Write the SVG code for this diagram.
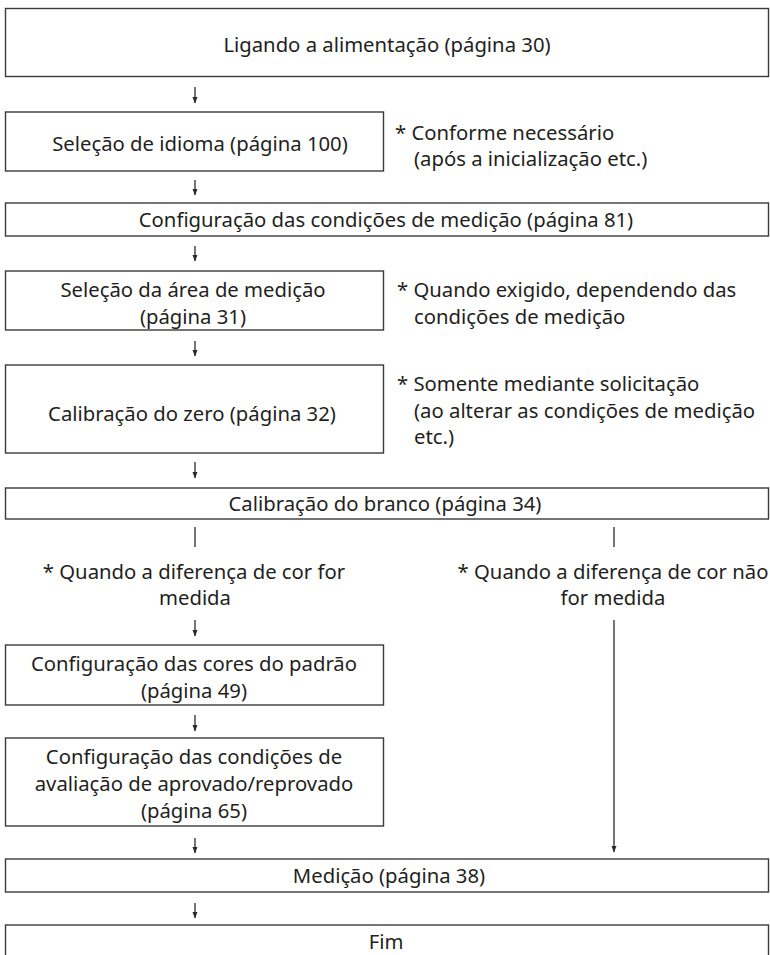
<svg xmlns="http://www.w3.org/2000/svg" width="770" height="955" viewBox="0 0 770 955">
<defs>
<marker id="ah" viewBox="0 0 7 7" refX="6.5" refY="3.5" markerWidth="7" markerHeight="7" markerUnits="userSpaceOnUse" orient="auto">
<path d="M0,0.8 L7,3.5 L0,6.2 Z" fill="#2b2b2b"/>
</marker>
<style>
.box{fill:#fff;stroke:#3a3a3a;stroke-width:1.4}
.t{font-family:"Noto Sans","Open Sans","DejaVu Sans",sans-serif;font-size:20.3px;fill:#231f20}
.c{text-anchor:middle}
.ln{stroke:#2b2b2b;stroke-width:1.3;fill:none}
</style>
</defs>
<rect width="770" height="955" fill="#fff"/>
<g id="connectors">
<line class="ln" x1="195" y1="87" x2="195" y2="103" marker-end="url(#ah)"/>
<line class="ln" x1="195" y1="180" x2="195" y2="195" marker-end="url(#ah)"/>
<line class="ln" x1="195" y1="246" x2="195" y2="261" marker-end="url(#ah)"/>
<line class="ln" x1="195" y1="341" x2="195" y2="356" marker-end="url(#ah)"/>
<line class="ln" x1="195" y1="462" x2="195" y2="478" marker-end="url(#ah)"/>
<line class="ln" x1="195" y1="527" x2="195" y2="547"/>
<line class="ln" x1="614" y1="527" x2="614" y2="547"/>
<line class="ln" x1="195" y1="620" x2="195" y2="636" marker-end="url(#ah)"/>
<line class="ln" x1="614" y1="620" x2="614" y2="852" marker-end="url(#ah)"/>
<line class="ln" x1="195" y1="715" x2="195" y2="731" marker-end="url(#ah)"/>
<line class="ln" x1="195" y1="838" x2="195" y2="853" marker-end="url(#ah)"/>
<line class="ln" x1="195" y1="903" x2="195" y2="918" marker-end="url(#ah)"/>
</g>
<g id="n1">
<rect class="box" x="5.5" y="8.5" width="763" height="68"/>
<text class="t c" x="387" y="52">Ligando a alimentação (página 30)</text>
</g>
<g id="n2">
<rect class="box" x="5.5" y="112" width="378" height="59"/>
<text class="t c" x="200" y="151">Seleção de idioma (página 100)</text>
</g>
<g id="note1">
<text class="t" x="395" y="140">* Conforme necessário</text>
<text class="t" x="414" y="166">(após a inicialização etc.)</text>
</g>
<g id="n3">
<rect class="box" x="5.5" y="203" width="763" height="33"/>
<text class="t c" x="386" y="227">Configuração das condições de medição (página 81)</text>
</g>
<g id="n4">
<rect class="box" x="5.5" y="271" width="378" height="59"/>
<text class="t c" x="193" y="297">Seleção da área de medição</text>
<text class="t c" x="193" y="324">(página 31)</text>
</g>
<g id="note2">
<text class="t" x="397" y="297">* Quando exigido, dependendo das</text>
<text class="t" x="414" y="324">condições de medição</text>
</g>
<g id="n5">
<rect class="box" x="5.5" y="365" width="378" height="88"/>
<text class="t c" x="192" y="421">Calibração do zero (página 32)</text>
</g>
<g id="note3">
<text class="t" x="397" y="391">* Somente mediante solicitação</text>
<text class="t" x="414" y="418">(ao alterar as condições de medição</text>
<text class="t" x="414" y="444">etc.)</text>
</g>
<g id="n6">
<rect class="box" x="5.5" y="488" width="763" height="31"/>
<text class="t c" x="385" y="511">Calibração do branco (página 34)</text>
</g>
<g id="label-left">
<text class="t c" x="194" y="579">* Quando a diferença de cor for</text>
<text class="t c" x="195" y="605">medida</text>
</g>
<g id="label-right">
<text class="t c" x="613" y="579">* Quando a diferença de cor não</text>
<text class="t c" x="613" y="605">for medida</text>
</g>
<g id="n7">
<rect class="box" x="5.5" y="645" width="378" height="60"/>
<text class="t c" x="194" y="671">Configuração das cores do padrão</text>
<text class="t c" x="194" y="698">(página 49)</text>
</g>
<g id="n8">
<rect class="box" x="5.5" y="738" width="378" height="88"/>
<text class="t c" x="194" y="764">Configuração das condições de</text>
<text class="t c" x="194" y="791">avaliação de aprovado/reprovado</text>
<text class="t c" x="194" y="818">(página 65)</text>
</g>
<g id="n9">
<rect class="box" x="5.5" y="859" width="763" height="33"/>
<text class="t c" x="389" y="883">Medição (página 38)</text>
</g>
<g id="n10">
<rect class="box" x="5.5" y="925" width="763" height="40"/>
<text class="t c" x="386" y="949">Fim</text>
</g>
</svg>
